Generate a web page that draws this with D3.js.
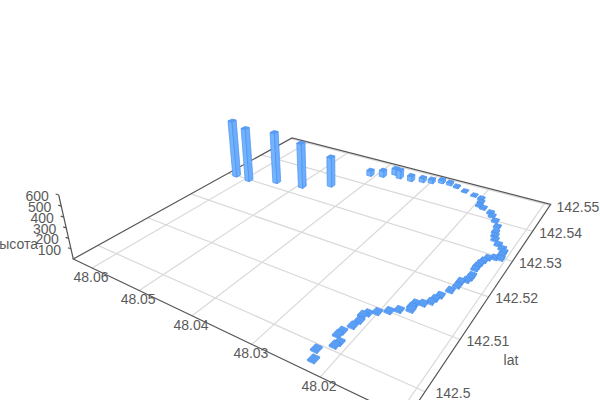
<!DOCTYPE html><html><head><meta charset="utf-8"><script src="https://cdn.jsdelivr.net/npm/d3@7"></script>
<style>html,body{margin:0;background:#fff}svg{display:block;font-family:"Liberation Sans",Arial,sans-serif}</style></head><body><svg id="c" width="600" height="400"></svg><script>
const lonTicks=[48.01,48.02,48.03,48.04,48.05,48.06];
const latTicks=[142.5,142.51,142.52,142.53,142.54,142.55];
const heightTicks=[100,200,300,400,500,600];
const lonValues=[48.0623,48.0591,48.0542,48.0491,48.0449,48.0410,48.0388,48.0372,48.0358,48.0335,48.0315,48.0299,48.0283,48.0267,48.0252,48.0233,48.0213,48.0198,48.0194,48.0192,48.0183,48.0167,48.0161,48.0151,48.0142,48.0139,48.0136,48.0132,48.0123,48.0114,48.0109,48.0109,48.0107,48.0115,48.0123,48.0126,48.0128,48.0129,48.0129,48.0127,48.0127,48.0129,48.0135,48.0135,48.0139,48.0146,48.0149,48.0151,48.0158,48.0167,48.0168,48.0166,48.0179,48.0189,48.0201,48.0210,48.0214,48.0212,48.0214,48.0220,48.0221,48.0212,48.0214,48.0229,48.0222];
const latValues=[142.5301,142.5299,142.5320,142.5330,142.5362,142.5439,142.5448,142.5468,142.5459,142.5460,142.5468,142.5473,142.5483,142.5483,142.5479,142.5471,142.5465,142.5459,142.5447,142.5434,142.5429,142.5420,142.5411,142.5398,142.5382,142.5365,142.5354,142.5343,142.5332,142.5324,142.5316,142.5307,142.5297,142.5294,142.5288,142.5278,142.5268,142.5259,142.5252,142.5234,142.5227,142.5219,142.5212,142.5200,142.5185,142.5167,142.5157,142.5148,142.5139,142.5134,142.5125,142.5119,142.5110,142.5101,142.5091,142.5082,142.5076,142.5064,142.5051,142.5035,142.5027,142.5016,142.5009,142.4991,142.4975];
const heightValues=[620,581,556,486,325,59,70,70,93,58,46,40,35,29,17,11,11,17,16,16,16,16,16,16,16,15,15,15,15,15,15,15,15,15,15,15,15,15,14,14,14,14,14,14,14,14,14,14,14,14,14,14,14,14,14,14,14,13,13,13,13,13,13,13,13];
const P={F:[407,418.6],L:[73.3,259],B:[292,138],R:[550.7,204.3]};
const lonS=d3.scaleLinear().domain([48.009,48.0643]).range([0,1]);
const latS=d3.scaleLinear().domain([142.4956,142.5505]).range([0,1]);
const zS=d3.scaleLinear().domain([0,600]).range([0,600]);
const [x00,y00]=P.F,[x10,y10]=P.L,[x11,y11]=P.B,[x01,y01]=P.R;
const dx1=x10-x11,dx2=x01-x11,sx=x00-x10+x11-x01,dy1=y10-y11,dy2=y01-y11,sy=y00-y10+y11-y01;
const det=dx1*dy2-dx2*dy1,g=(sx*dy2-dx2*sy)/det,h=(dx1*sy-sx*dy1)/det;
const a=x10-x00+g*x10,b=x01-x00+h*x01,c=x00,d=y10-y00+g*y10,e=y01-y00+h*y01,f=y00;
const K=-8.5e-5*(1+g), VP=[345,1450];
function proj(lon,lat,z=0){const u=lonS(lon),v=latS(lat),t=zS(z)*K;const w=g*u+h*v+1+t;return [(a*u+b*v+c+t*VP[0])/w,(d*u+e*v+f+t*VP[1])/w,w];}
const svg=d3.select("#c");
const lineG=d3.line();
const xy=a=>a.map(p=>p.slice(0,2));
const [lon0,lon1]=lonS.domain(),[lat0,lat1]=latS.domain();
const grid=svg.append("g").attr("fill","none").attr("stroke","#d9d9d9").attr("stroke-width",1.2);
lonTicks.forEach(t=>grid.append("path").attr("d",lineG(xy([proj(t,lat0),proj(t,lat1)]))));
latTicks.forEach(t=>grid.append("path").attr("d",lineG(xy([proj(lon0,t),proj(lon1,t)]))));
const ax=svg.append("g").attr("fill","none").attr("stroke","#555").attr("stroke-width",1.2);
ax.append("path").attr("d",lineG(xy([proj(lon0,lat0),proj(lon1,lat0),proj(lon1,lat1),proj(lon0,lat1),proj(lon0,lat0)])));
ax.append("path").attr("d",lineG(xy([proj(lon1,lat0,0),proj(lon1,lat0,600)])));
heightTicks.forEach(t=>{const p=proj(lon1,lat0,t);ax.append("path").attr("d",lineG([[p[0],p[1]],[p[0]-3,p[1]-1]]));});
const txt=svg.append("g").attr("fill","#5a5a5a").attr("font-size",14).attr("text-anchor","middle").attr("dominant-baseline","central").attr("opacity",.995);
lonTicks.slice(1).forEach(t=>{const p=proj(t,lat0);txt.append("text").attr("x",p[0]-1).attr("y",p[1]+9).text(t.toFixed(2));});
latTicks.forEach(t=>{const p=proj(lon0,t);txt.append("text").attr("x",p[0]+28).attr("y",p[1]+1.5).text(t==142.5?"142.5":t.toFixed(2));});
heightTicks.forEach(t=>{const p=proj(lon1,lat0,t);txt.append("text").attr("x",p[0]-21.5).attr("y",p[1]+1).text(t);});
txt.append("text").attr("x",511).attr("y",360).text("lat");
txt.append("text").attr("x",38).attr("y",244).attr("text-anchor","end").text("высота");
const dL=.00048,dA=.00056;
const idx=d3.range(lonValues.length).sort((i,j)=>proj(lonValues[j],latValues[j])[2]-proj(lonValues[i],latValues[i])[2]);
const bars=svg.append("g").attr("stroke-linejoin","round").attr("stroke-width",.7).attr("stroke","#4a90ee");
idx.forEach(i=>{const lo=lonValues[i],la=latValues[i],z=heightValues[i];
 const q=(s,t,zz)=>proj(lo+s*dL,la+t*dA,zz).slice(0,2);
 const poly=(ps,fill)=>bars.append("path").attr("d",lineG(ps)+"Z").attr("fill",fill);
 poly([q(-1,-1,0),q(1,-1,0),q(1,-1,z),q(-1,-1,z)],"#74b4ff");
 poly([q(-1,-1,0),q(-1,1,0),q(-1,1,z),q(-1,-1,z)],"#6cadfd");
 poly([q(-1,-1,z),q(1,-1,z),q(1,1,z),q(-1,1,z)],"#5a9ff5");
});
</script></body></html>
